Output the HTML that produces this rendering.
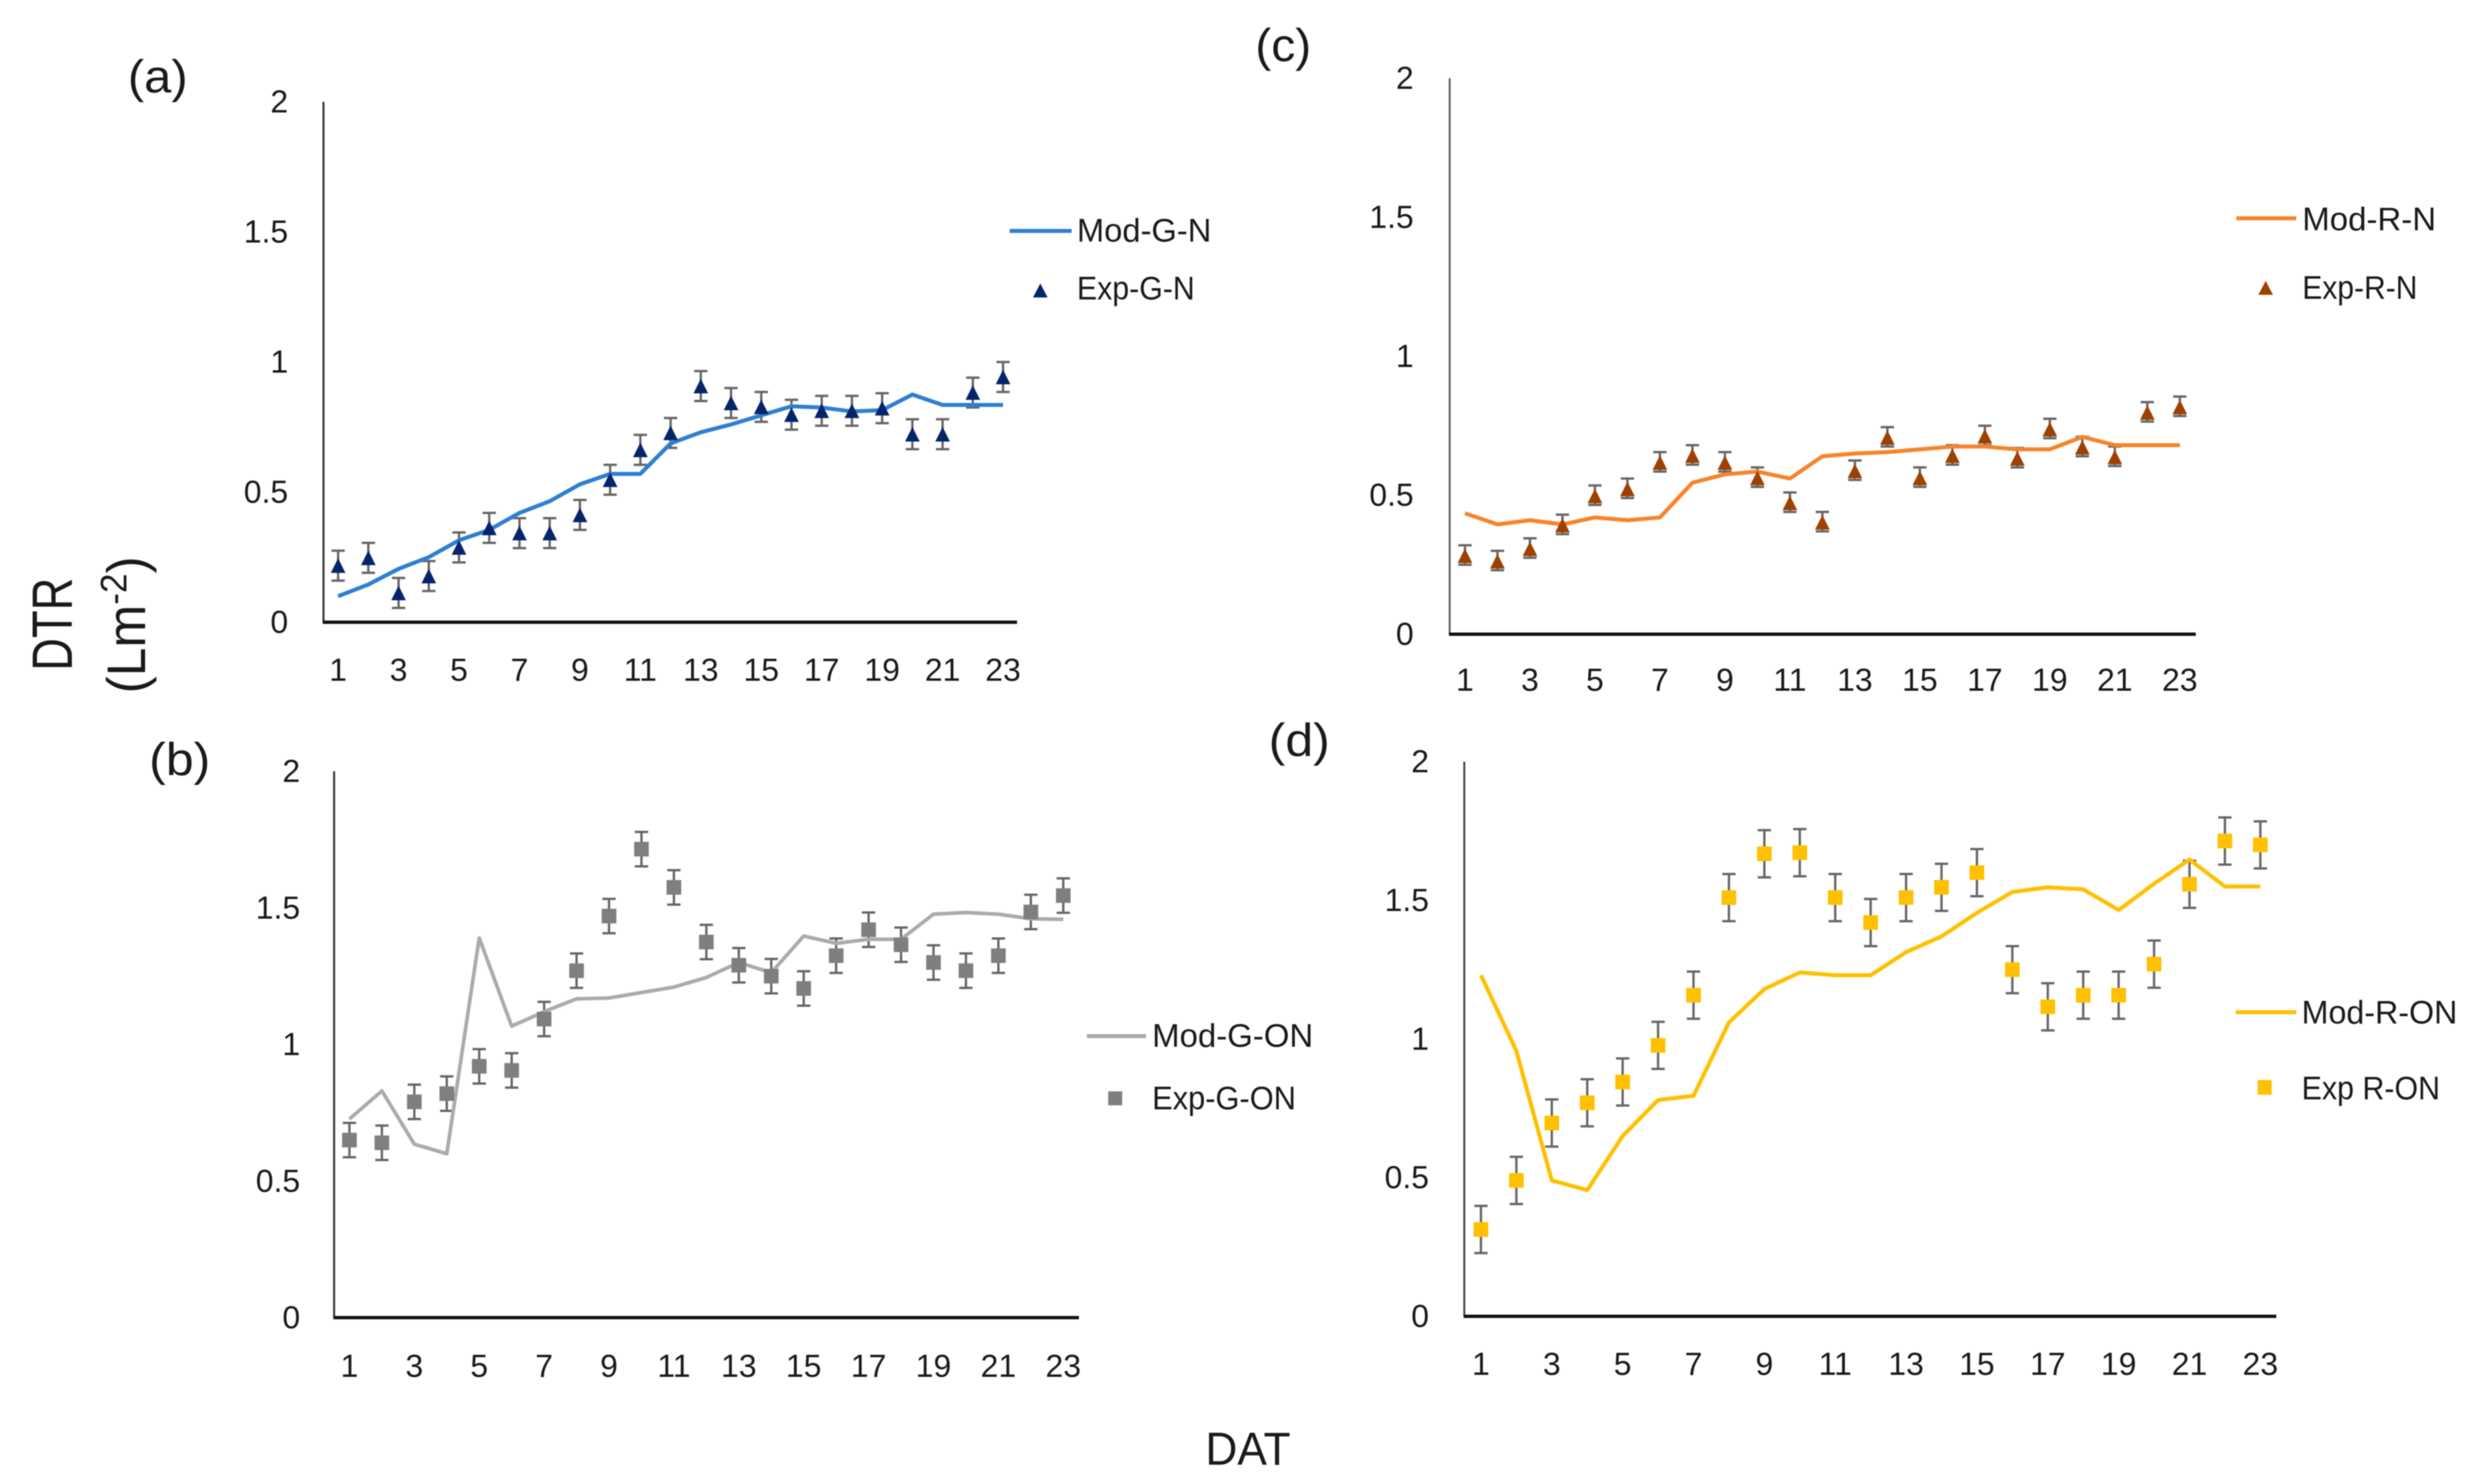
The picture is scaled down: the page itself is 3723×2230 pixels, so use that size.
<!DOCTYPE html>
<html lang="en">
<head>
<meta charset="utf-8">
<title>DTR vs DAT panels</title>
<style>
html,body{margin:0;padding:0;background:#fff;width:3723px;height:2230px;overflow:hidden}
svg{display:block;filter:blur(0.9px)}
text{font-family:"Liberation Sans",sans-serif;fill:#1a1a1a}
.tick{font-size:48px}
.leg{font-size:49px}
.tag{font-size:70px}
</style>
</head>
<body>
<svg id="figure" xmlns="http://www.w3.org/2000/svg" width="3723" height="2230" viewBox="0 0 3723 2230">
  <rect width="3723" height="2230" fill="#fff"/>

  <text class="tag" x="192" y="139" textLength="90" lengthAdjust="spacingAndGlyphs">(a)</text>
  <text class="tag" x="224" y="1165" textLength="92" lengthAdjust="spacingAndGlyphs">(b)</text>
  <text class="tag" x="1886" y="92" textLength="84" lengthAdjust="spacingAndGlyphs">(c)</text>
  <text class="tag" x="1906" y="1136" textLength="92" lengthAdjust="spacingAndGlyphs">(d)</text>

  <text transform="translate(108,1008) rotate(-90)" font-size="85" textLength="140" lengthAdjust="spacingAndGlyphs">DTR</text>
  <text transform="translate(218,1042) rotate(-90)" font-size="82" textLength="206" lengthAdjust="spacingAndGlyphs">(Lm<tspan font-size="56" dy="-28">-2</tspan><tspan dy="28">)</tspan></text>
  <text x="1811" y="2201" font-size="70" textLength="128" lengthAdjust="spacingAndGlyphs">DAT</text>

  <g id="panel-a"></g>
  <g id="panel-b"></g>
  <g id="panel-c"></g>
  <g id="panel-d"></g>

  <g>
    <line x1="1517" x2="1610" y1="347" y2="347" stroke="#2E7FD2" stroke-width="6"/>
    <text class="leg" x="1618" y="363" textLength="202" lengthAdjust="spacingAndGlyphs">Mod-G-N</text>
    <polygon points="1563,426 1574,447 1552,447" fill="#06246A"/>
    <text class="leg" x="1618" y="450" textLength="177" lengthAdjust="spacingAndGlyphs">Exp-G-N</text>
  </g>
  <g>
    <line x1="1633" x2="1722" y1="1557" y2="1557" stroke="#ABABAB" stroke-width="6"/>
    <text class="leg" x="1731" y="1573" textLength="242" lengthAdjust="spacingAndGlyphs">Mod-G-ON</text>
    <rect x="1665" y="1640" width="21" height="21" fill="#7F7F7F"/>
    <text class="leg" x="1731" y="1667" textLength="216" lengthAdjust="spacingAndGlyphs">Exp-G-ON</text>
  </g>
  <g>
    <line x1="3360" x2="3450" y1="328" y2="328" stroke="#F7842B" stroke-width="6"/>
    <text class="leg" x="3459" y="346" textLength="201" lengthAdjust="spacingAndGlyphs">Mod-R-N</text>
    <polygon points="3404,422 3415,443 3393,443" fill="#9C4100"/>
    <text class="leg" x="3459" y="449" textLength="173" lengthAdjust="spacingAndGlyphs">Exp-R-N</text>
  </g>
  <g>
    <line x1="3359" x2="3450" y1="1521" y2="1521" stroke="#FFC000" stroke-width="6"/>
    <text class="leg" x="3458" y="1538" textLength="234" lengthAdjust="spacingAndGlyphs">Mod-R-ON</text>
    <rect x="3392" y="1623" width="21" height="22" fill="#FFC000"/>
    <text class="leg" x="3458" y="1652" textLength="208" lengthAdjust="spacingAndGlyphs">Exp R-ON</text>
  </g>
</svg>

<script>
// Shared axis data
const days = [1,2,3,4,5,6,7,8,9,10,11,12,13,14,15,16,17,18,19,20,21,22,23];
const xTickLabels = ['1','3','5','7','9','11','13','15','17','19','21','23'];
const yTickLabels = ['0','0.5','1','1.5','2'];

// Panel (a)
const modGN = [0.10,0.145,0.205,0.25,0.315,0.355,0.42,0.465,0.53,0.57,0.57,0.687,0.73,0.76,0.795,0.83,0.825,0.81,0.815,0.875,0.835,0.835,0.835];
const expGN = [0.215,0.245,0.11,0.175,0.285,0.36,0.34,0.34,0.41,0.545,0.66,0.725,0.905,0.84,0.825,0.795,0.81,0.81,0.82,0.72,0.72,0.88,0.94];
const errUpGN = 0.06;
const errDownGN = 0.055;

// Panel (b)
const modGON = [0.727,0.83,0.635,0.60,1.39,1.067,1.12,1.167,1.17,1.19,1.21,1.245,1.30,1.263,1.397,1.37,1.385,1.385,1.477,1.483,1.477,1.46,1.458];
const expGON = [0.65,0.64,0.79,0.82,0.92,0.905,1.093,1.27,1.47,1.715,1.575,1.375,1.29,1.25,1.205,1.325,1.42,1.365,1.30,1.27,1.325,1.485,1.545];
const errUpGON = 0.063;
const errDownGON = 0.063;

// Panel (c)
const modRN = [0.435,0.395,0.41,0.395,0.42,0.41,0.42,0.545,0.575,0.585,0.56,0.64,0.65,0.655,0.665,0.675,0.675,0.665,0.665,0.71,0.68,0.68,0.68];
const expRN = [0.28,0.26,0.305,0.39,0.495,0.52,0.615,0.64,0.615,0.56,0.47,0.40,0.585,0.705,0.56,0.64,0.71,0.63,0.735,0.67,0.635,0.795,0.815];
const errUpRN = 0.04;
const errDownRN = 0.03;

// Panel (d)
const modRON = [1.23,0.957,0.49,0.455,0.65,0.78,0.795,1.06,1.18,1.24,1.23,1.23,1.313,1.37,1.455,1.53,1.547,1.54,1.465,1.56,1.647,1.55,1.55];
const expRON = [0.313,0.49,0.697,0.77,0.845,0.977,1.158,1.51,1.668,1.672,1.51,1.42,1.51,1.547,1.60,1.25,1.116,1.158,1.158,1.27,1.558,1.714,1.70];
const errUpRON = 0.085;
const errDownRON = 0.085;

const NS = 'http://www.w3.org/2000/svg';
function make(tag, attrs, parent){
  const n = document.createElementNS(NS, tag);
  for (const k in attrs) n.setAttribute(k, attrs[k]);
  parent.appendChild(n);
  return n;
}

function drawPanel(id, layout, mod, exp, errUp, errDown, style){
  const root = document.getElementById(id);
  const xScale = d => layout.x1 + (d - 1) * (layout.x23 - layout.x1) / 22;
  const yScale = v => layout.y0 - v * layout.unit;

  const yAxis = make('line', {x1:layout.axisX, x2:layout.axisX, y1:yScale(2), y2:layout.y0, stroke:style.axis, 'stroke-width':3}, root);
  
  
  const xAxis = make('line', {x1:layout.axisX - 1, x2:layout.axisEnd, y1:layout.y0, y2:layout.y0, stroke:'#111', 'stroke-width':5}, root);
  
  

  yTickLabels.forEach(label => {
    const t = make('text', {class:'tick', x:layout.yLabelX, y:yScale(parseFloat(label)) + 16, 'text-anchor':'end'}, root);
    t.textContent = label;
    
    
  });
  xTickLabels.forEach(label => {
    const t = make('text', {class:'tick', x:xScale(parseInt(label, 10)), y:layout.xLabelY, 'text-anchor':'middle'}, root);
    t.textContent = label;
    
    
  });

  // error bars
  days.forEach((d, i) => {
    const x = xScale(d), top = yScale(exp[i] + errUp), bot = yScale(exp[i] - errDown);
    const g = make('g', {stroke:'#666', 'stroke-width':3.5, fill:'none'}, root);
    
    
    make('line', {x1:x, x2:x, y1:top, y2:bot}, g);
    make('line', {x1:x - 10, x2:x + 10, y1:top, y2:top}, g);
    make('line', {x1:x - 10, x2:x + 10, y1:bot, y2:bot}, g);
  });

  // model line
  const pts = days.map((d, i) => xScale(d) + ',' + yScale(mod[i])).join(' ');
  const line = make('polyline', {points:pts, fill:'none', stroke:style.line, 'stroke-width':style.lineWidth, 'stroke-linejoin':'round'}, root);
  
  

  // experiment markers
  days.forEach((d, i) => {
    const x = xScale(d), y = yScale(exp[i]);
    let m;
    if (style.shape === 'triangle') {
      m = make('polygon', {points:(x)+','+(y-12)+' '+(x+11)+','+(y+10)+' '+(x-11)+','+(y+10), fill:style.marker}, root);
    } else {
      m = make('rect', {x:x - 11, y:y - 11, width:22, height:22, fill:style.marker}, root);
    }
    
    
  });
}

drawPanel('panel-a', {axisX:486, axisEnd:1528, x1:508, x23:1507, y0:935, unit:391, yLabelX:433, xLabelY:1023},
  modGN, expGN, errUpGN, errDownGN, {line:'#2E7FD2', lineWidth:6, marker:'#06246A', shape:'triangle', axis:'#333'});
drawPanel('panel-b', {axisX:502, axisEnd:1621, x1:525, x23:1597.5, y0:1980, unit:410.5, yLabelX:451, xLabelY:2069},
  modGON, expGON, errUpGON, errDownGON, {line:'#ABABAB', lineWidth:5.5, marker:'#7F7F7F', shape:'square', axis:'#333'});
drawPanel('panel-c', {axisX:2178, axisEnd:3299, x1:2201, x23:3275, y0:953, unit:417.7, yLabelX:2124, xLabelY:1038},
  modRN, expRN, errUpRN, errDownRN, {line:'#F7842B', lineWidth:6, marker:'#9C4100', shape:'triangle', axis:'#666'});
drawPanel('panel-d', {axisX:2200, axisEnd:3420, x1:2225, x23:3396, y0:1978, unit:416.7, yLabelX:2147, xLabelY:2066},
  modRON, expRON, errUpRON, errDownRON, {line:'#FFC000', lineWidth:6, marker:'#FFC000', shape:'square', axis:'#444'});
</script>
</body>
</html>
